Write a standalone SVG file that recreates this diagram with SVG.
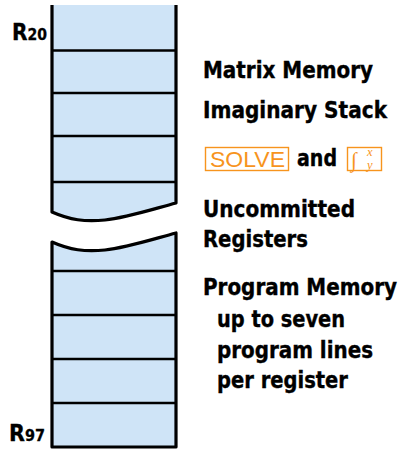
<svg xmlns="http://www.w3.org/2000/svg" width="403" height="449" viewBox="0 0 403 449">
<style>
.fill{fill:#cfe4f7;stroke:none}
.edge{fill:none;stroke:#000;stroke-width:3.2;stroke-linejoin:round;stroke-linecap:butt}
.div{stroke:#000;stroke-width:2.6}
.lbl{font-family:"DejaVu Sans Condensed","DejaVu Sans",sans-serif;font-weight:bold;font-size:23px;fill:#000;stroke:#000;stroke-width:0.35}
.reg{font-family:"DejaVu Sans Condensed","DejaVu Sans",sans-serif;font-weight:bold;fill:#000;stroke:#000;stroke-width:0.3}
.key{fill:none;stroke:#f7941d;stroke-width:1.4}
.keyt{font-family:"Liberation Sans",Arial,sans-serif;fill:#f7941d}
.keym{font-family:"Liberation Serif","Times New Roman",serif;font-style:italic;fill:#f7941d}
</style>
<rect width="403" height="449" fill="#fff"/>
<g id="upper-block">
<path class="fill" d="M52,5 L176,5 L176,203 C150,210 125,218 105,220 C85,222 70,220 52,212 Z"/>
<path class="edge" d="M52,5 L52,212 C70,220 85,222 105,220 C125,218 150,210 176,203 L176,5"/>
<line class="div" x1="52" y1="50.5" x2="176" y2="50.5"/>
<line class="div" x1="52" y1="93" x2="176" y2="93"/>
<line class="div" x1="52" y1="136" x2="176" y2="136"/>
<line class="div" x1="52" y1="182" x2="176" y2="182"/>
</g>
<g id="lower-block">
<path class="fill" d="M52,242 C70,250 85,252 105,250 C125,248 150,240 176,233 L176,447 L52,447 Z"/>
<path class="edge" d="M52,242 C70,250 85,252 105,250 C125,248 150,240 176,233 L176,447 L52,447 Z"/>
<line class="div" x1="52" y1="271" x2="176" y2="271"/>
<line class="div" x1="52" y1="315" x2="176" y2="315"/>
<line class="div" x1="52" y1="359" x2="176" y2="359"/>
<line class="div" x1="52" y1="403" x2="176" y2="403"/>
</g>
<g id="r20"><text class="reg" x="12" y="40" font-size="23" textLength="35" lengthAdjust="spacingAndGlyphs">R<tspan font-size="16">20</tspan></text></g>
<g id="r97"><text class="reg" x="9" y="441" font-size="23" textLength="36" lengthAdjust="spacingAndGlyphs">R<tspan font-size="16">97</tspan></text></g>
<g id="labels">
<text class="lbl" x="203" y="78" textLength="170" lengthAdjust="spacingAndGlyphs">Matrix Memory</text>
<text class="lbl" x="203" y="118" textLength="184" lengthAdjust="spacingAndGlyphs">Imaginary Stack</text>
<rect class="key" x="205.5" y="147.5" width="83" height="23"/>
<text class="keyt" x="210" y="167" font-size="22" textLength="75" lengthAdjust="spacingAndGlyphs">SOLVE</text>
<text class="lbl" x="297" y="166" textLength="40" lengthAdjust="spacingAndGlyphs">and</text>
<rect class="key" x="347.5" y="147.5" width="34" height="23"/>
<text class="keym" x="351" y="167" font-size="21">∫</text>
<text class="keym" x="367" y="156" font-size="12.5">x</text>
<text class="keym" x="367" y="169" font-size="12.5">y</text>
<text class="lbl" x="203" y="217" textLength="152" lengthAdjust="spacingAndGlyphs">Uncommitted</text>
<text class="lbl" x="203" y="247" textLength="105" lengthAdjust="spacingAndGlyphs">Registers</text>
<text class="lbl" x="203" y="295" textLength="194" lengthAdjust="spacingAndGlyphs">Program Memory</text>
<text class="lbl" x="217" y="327" textLength="128" lengthAdjust="spacingAndGlyphs">up to seven</text>
<text class="lbl" x="217" y="358" textLength="156" lengthAdjust="spacingAndGlyphs">program lines</text>
<text class="lbl" x="217" y="388" textLength="131" lengthAdjust="spacingAndGlyphs">per register</text>
</g>
</svg>
